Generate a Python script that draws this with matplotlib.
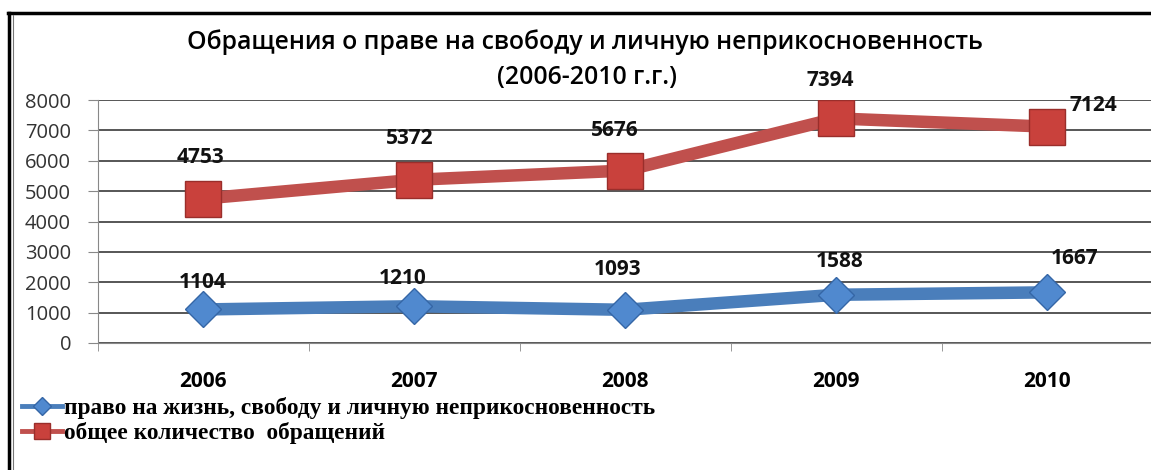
import matplotlib
matplotlib.use("Agg")
import matplotlib.pyplot as plt
from matplotlib.lines import Line2D
import numpy as np

years = ["2006", "2007", "2008", "2009", "2010"]
life = [1104, 1210, 1093, 1588, 1667]
total = [4753, 5372, 5676, 7394, 7124]
life_name = "право на жизнь, свободу и личную неприкосновенность"
total_name = "общее количество  обращений"
title1 = "Обращения о праве на свободу и личную неприкосновенность"
title2 = "(2006-2010 г.г.)"

# label offsets in pixels (dx, dy)
life_off = [(0, 27), (-11, 28), (-7, 40), (4, 33), (28, 34)]
total_off = [(-3, 41), (-4, 41), (-10, 40), (-6, 38), (46, 21)]

blue = "#4A7EBB"
blue_face = "#5089CF"
blue_edge = "#3566A6"
red = "#C0504D"
red_face = "#C9413C"
red_edge = "#9A2E2B"

fig = plt.figure(figsize=(11.51, 4.70), dpi=100)
fig.patch.set_facecolor("white")
ax = fig.add_axes([97.5 / 1151, 1 - 343 / 470, 1055 / 1151, 243 / 470])

x = np.arange(len(years))
ax.plot(x, total, color=red, lw=9, marker="s", ms=26, mfc=red_face, mec=red_edge, mew=1, zorder=3)
ax.plot(x, life, color=blue, lw=9, marker="D", ms=18, mfc=blue_face, mec=blue_edge, mew=1, zorder=3)

lab = dict(textcoords="offset pixels", ha="center", va="center", fontsize=15,
           fontweight="bold", family="Open Sans", color="#111111", zorder=4)
for i in range(len(years)):
    ax.annotate(str(total[i]), (x[i], total[i]), xytext=total_off[i], **lab)
    ax.annotate(str(life[i]), (x[i], life[i]), xytext=life_off[i], **lab)

ax.set_xlim(-0.5, 4.5)
ax.set_ylim(0, 8000)
ax.set_yticks(np.arange(0, 8001, 1000))
ax.yaxis.grid(True, color="#3a3a3a", lw=1.2)
ax.set_axisbelow(True)
ax.set_xticks(x)
ax.set_xticklabels(years, fontsize=15, fontweight="bold", family="Open Sans")
ax.set_xticks(np.arange(-0.5, 5, 1), minor=True)
ax.tick_params(axis="x", which="major", length=0, pad=20)
ax.tick_params(axis="x", which="minor", length=6, color="#888888")
ax.tick_params(axis="y", length=7, color="#888888", pad=12, labelsize=14.5, labelcolor="#333333")
for t in ax.get_yticklabels():
    t.set_family("Open Sans")
for s in ["top", "right"]:
    ax.spines[s].set_visible(False)
ax.spines["left"].set_color("#888888")
ax.spines["bottom"].set_color("#888888")

fig.text(0.508, 1 - 42 / 470, title1, ha="center", va="center", fontsize=17.8,
         fontweight="semibold", family="Open Sans")
fig.text(0.51, 1 - 77 / 470, title2, ha="center", va="center", fontsize=17.8,
         fontweight="semibold", family="Open Sans")

handles = [
    Line2D([], [], color=blue, lw=3.5, marker="D", ms=9, mfc=blue_face, mec=blue_edge),
    Line2D([], [], color=red, lw=3.5, marker="s", ms=11, mfc=red_face, mec=red_edge),
]
fig.legend(handles, [life_name, total_name], loc="upper left",
           bbox_to_anchor=(22 / 1151, 1 - 397 / 470), frameon=False, borderpad=0,
           borderaxespad=0, handlelength=1.7, handletextpad=0.1, labelspacing=0.15,
           prop={"family": "Liberation Serif", "weight": "bold", "size": 16.8})

# frame of the original picture
fig.add_artist(Line2D([8 / 1151, 1], [1 - 13 / 470] * 2, color="black", lw=2.5))
fig.add_artist(Line2D([9 / 1151] * 2, [0, 1 - 13 / 470], color="black", lw=2.5))
fig.add_artist(Line2D([12.5 / 1151] * 2, [0, 1 - 15 / 470], color="#777777", lw=0.8))

fig.savefig("out.png", dpi=100)
